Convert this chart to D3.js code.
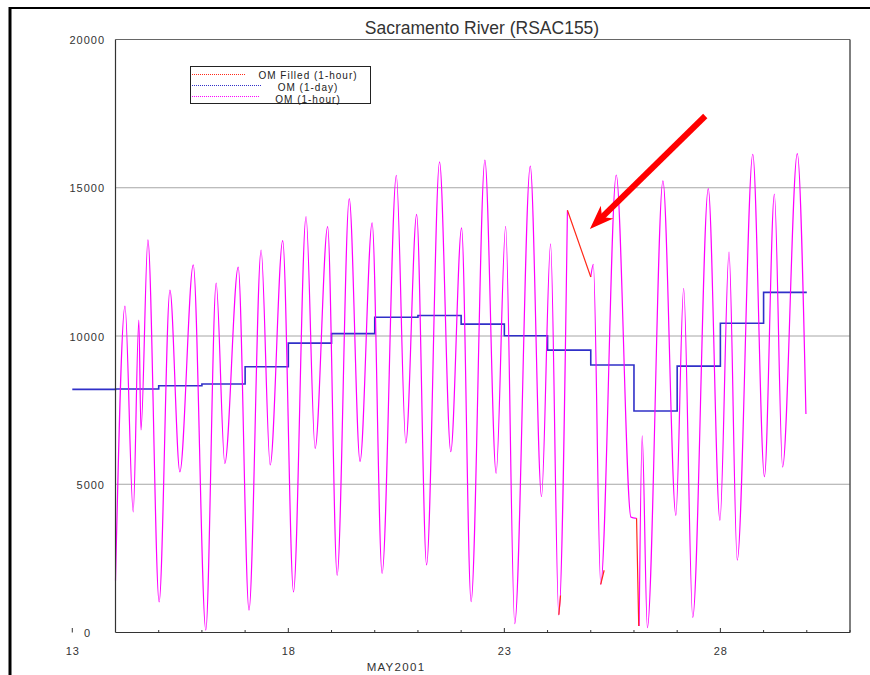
<!DOCTYPE html>
<html>
<head>
<meta charset="utf-8">
<script src="https://cdn.jsdelivr.net/npm/d3@7"></script>
<style>
  html, body { margin: 0; padding: 0; background: #fff; }
  svg { display: block; font-family: "Liberation Sans", Arial, sans-serif; }
</style>
</head>
<body>
<script>
// ---------------- DATA ----------------
const chartTitle = "Sacramento River (RSAC155)";
const xAxisTitle = "MAY2001";
const yTickValues = [0, 5000, 10000, 15000, 20000];
const xMajorTicks = [13, 18, 23, 28];
const xMinorTicks = [15, 16, 17, 19, 20, 21, 22, 24, 25, 26, 27, 29, 30, 31];
const legendLabels = ["OM Filled (1-hour)", "OM (1-day)", "OM (1-hour)"];

// OM (1-hour): day of May (fractional) and value; null = missing (gap)
const hourlyDay = [14.00, 14.22, 14.41, 14.54, 14.59, 14.75, 15.01, 15.26, 15.49, 15.80,
  16.09, 16.33, 16.53, 16.84, 17.09, 17.37, 17.58, 17.87, 18.12, 18.41,
  18.62, 18.91, 19.13, 19.41, 19.66, 19.94, 20.17, 20.50, 20.72, 20.97,
  21.20, 21.50, 21.76, 22.01, 22.23, 22.55, 22.81, 23.03, 23.24, 23.60,
  23.86, 24.07, 24.26, 24.46, 24.70, 25.00, 25.06, 25.23, 25.59, 25.93,
  26.06, 26.09, 26.12, 26.19, 26.31, 26.67, 26.97, 27.15, 27.36, 27.72,
  27.99, 28.20, 28.39, 28.75, 29.02, 29.25, 29.44, 29.78, 29.98];
const hourlyOM = [1750, 11010, 4070, 10540, 6830, 13240, 1030, 11550, 5420, 12400,
  80, 11780, 5700, 12320, 750, 12900, 5650, 13220, 1370, 14030,
  6210, 13690, 1930, 14630, 5770, 13820, 1990, 15420, 6390, 14100,
  2280, 15870, 6100, 13650, 1040, 15930, 5370, 13700, 300, 15730,
  4580, 13110, 590, 14240, null, 11990, 12420, 1620, 15430, 3890,
  3850, null, 220, 6630, 160, 15230, 3950, 11610, 510, 14970,
  3780, 12830, 2440, 16130, 5260, 14790, 5580, 16150, 7370];

// OM Filled (1-hour): only the filled pieces; null separates pieces
const filledDay = [24.26, 24.30, null, 24.46, 25.00, null, 25.23, 25.31, null, 26.06, 26.11];
const filledOM  = [600, 1250, null, 14240, 11990, null, 1620, 2100, null, 3850, 220];

// OM (1-day): daily step values (value holds from that day to the next)
const dailyDay = [13, 14, 15, 16, 17, 18, 19, 20, 21, 22, 23, 24, 25, 26, 27, 28, 29, 30];
const dailyOM  = [8200, 8210, 8320, 8380, 8965, 9760, 10080, 10630, 10690, 10400,
  10010, 9525, 9020, 7470, 8985, 10430, 11470, 11470];

// Annotation arrow (data coordinates): tail and tip
const arrowTail = [27.65, 17420];
const arrowTip  = [24.98, 13610];

// ---------------- DRAWING ----------------
const W = 870, H = 675;
const svg = d3.select("body").append("svg").attr("width", W).attr("height", H);
svg.append("rect").attr("width", W).attr("height", H).attr("fill", "#fff");

const x = d3.scaleLinear().domain([14, 31]).range([115.5, 850]);
const y = d3.scaleLinear().domain([0, 20000]).range([632.5, 39.5]);

// outer frame (left and top black edges)
svg.append("line").attr("x1", 10).attr("x2", 10).attr("y1", 7).attr("y2", H)
  .attr("stroke", "#000").attr("stroke-width", 3);
svg.append("line").attr("x1", 9).attr("x2", W).attr("y1", 8).attr("y2", 8)
  .attr("stroke", "#000").attr("stroke-width", 2);

// title
svg.append("text").attr("x", 482).attr("y", 34).attr("text-anchor", "middle")
  .attr("font-size", 17.5).attr("fill", "#333").text(chartTitle);

// gridlines
svg.append("g").selectAll("line").data(yTickValues.filter(v => v > 0 && v < 20000))
  .join("line")
  .attr("x1", x(14)).attr("x2", x(31))
  .attr("y1", d => y(d)).attr("y2", d => y(d))
  .attr("stroke", "#a6a6a6").attr("stroke-width", 1);

// plot frame
svg.append("line").attr("x1", x(14)).attr("x2", x(31)).attr("y1", y(20000)).attr("y2", y(20000))
  .attr("stroke", "#666").attr("stroke-width", 1.2);
svg.append("line").attr("x1", x(31)).attr("x2", x(31)).attr("y1", y(20000)).attr("y2", y(0))
  .attr("stroke", "#555").attr("stroke-width", 1.5);

// y tick labels
svg.append("g").selectAll("text").data(yTickValues).join("text")
  .attr("x", d => d === 0 ? 91 : 105)
  .attr("y", d => y(d) + 4.5)
  .attr("text-anchor", "end")
  .attr("font-size", 11).attr("letter-spacing", 1).attr("fill", "#333")
  .text(d => d);

// series: daily step (blue)
const dailyPts = dailyDay.map((d, i) => [d, dailyOM[i]]);
svg.append("path").datum(dailyPts)
  .attr("fill", "none").attr("stroke", "#3030c8").attr("stroke-width", 1.6)
  .attr("d", d3.line().x(d => x(d[0])).y(d => y(d[1])).curve(d3.curveStepAfter));

// series: hourly (magenta)
const hourlyPts = hourlyDay.map((d, i) => [d, hourlyOM[i]]);
svg.append("path").datum(hourlyPts)
  .attr("fill", "none").attr("stroke", "#ff00ff").attr("stroke-width", 1.2)
  .attr("d", d3.line().defined(d => d[1] != null)
    .x(d => x(d[0])).y(d => y(d[1])).curve(d3.curveMonotoneX));

// series: filled (red)
const filledPts = filledDay.map((d, i) => [d, filledOM[i]]);
svg.append("path").datum(filledPts)
  .attr("fill", "none").attr("stroke", "#ff2a1a").attr("stroke-width", 1.2)
  .attr("d", d3.line().defined(d => d[0] != null && d[1] != null)
    .x(d => x(d[0])).y(d => y(d[1])));

// axes lines (left and bottom)
svg.append("line").attr("x1", x(14)).attr("x2", x(14)).attr("y1", y(20000)).attr("y2", y(0))
  .attr("stroke", "#333").attr("stroke-width", 1.2);
svg.append("line").attr("x1", x(14)).attr("x2", x(31)).attr("y1", y(0)).attr("y2", y(0))
  .attr("stroke", "#333").attr("stroke-width", 1.2);

// x ticks (inward) and labels
svg.append("g").selectAll("line").data(xMinorTicks).join("line")
  .attr("x1", d => x(d)).attr("x2", d => x(d))
  .attr("y1", y(0)).attr("y2", y(0) - 2.5)
  .attr("stroke", "#333");
svg.append("g").selectAll("line").data(xMajorTicks).join("line")
  .attr("x1", d => x(d)).attr("x2", d => x(d))
  .attr("y1", y(0)).attr("y2", y(0) - 4.5)
  .attr("stroke", "#333");
svg.append("g").selectAll("text").data(xMajorTicks).join("text")
  .attr("x", d => x(d) + 0.5).attr("y", 655)
  .attr("text-anchor", "middle")
  .attr("font-size", 11).attr("letter-spacing", 1).attr("fill", "#333")
  .text(d => d);
svg.append("text").attr("x", 396).attr("y", 671).attr("text-anchor", "middle")
  .attr("font-size", 11.5).attr("letter-spacing", 1.3).attr("fill", "#333")
  .text(xAxisTitle);

// legend
const lg = svg.append("g");
const legendColors = ["#ff2a1a", "#3030c8", "#ff00ff"];
const legendLineEnd = [246, 262, 260];
const legendLineY = [74.5, 85.5, 96.5];
const legendTextY = [79, 90.5, 102.5];
legendLabels.forEach((lab, i) => {
  lg.append("line").attr("x1", 192).attr("x2", legendLineEnd[i])
    .attr("y1", legendLineY[i]).attr("y2", legendLineY[i])
    .attr("stroke", legendColors[i]).attr("stroke-width", 1)
    .attr("stroke-dasharray", "1,1");
  lg.append("text").attr("x", 308).attr("y", legendTextY[i])
    .attr("text-anchor", "middle").attr("font-size", 10).attr("letter-spacing", 1)
    .attr("fill", "#222").text(lab);
});
lg.append("rect").attr("x", 190.5).attr("y", 66.5).attr("width", 180).attr("height", 37)
  .attr("fill", "none").attr("stroke", "#222").attr("stroke-width", 1);

// annotation arrow
const tx = x(arrowTail[0]), ty = y(arrowTail[1]);
const px = x(arrowTip[0]),  py = y(arrowTip[1]);
const len = Math.hypot(tx - px, ty - py);
const ux = (tx - px) / len, uy = (ty - py) / len;   // along, tip -> tail
const nx = -uy, ny = ux;                            // normal
const headLen = 24, headHalf = 9, notch = 17;
const head = [
  [px, py],
  [px + ux * headLen + nx * headHalf, py + uy * headLen + ny * headHalf],
  [px + ux * notch, py + uy * notch],
  [px + ux * headLen - nx * headHalf, py + uy * headLen - ny * headHalf]
];
svg.append("line").attr("x1", tx).attr("y1", ty)
  .attr("x2", px + ux * (notch - 1)).attr("y2", py + uy * (notch - 1))
  .attr("stroke", "#ff0000").attr("stroke-width", 6);
svg.append("polygon").attr("points", head.map(p => p.join(",")).join(" "))
  .attr("fill", "#ff0000");

// stray tick at day 13 (outside plot, as in the reference)
</script>
</body>
</html>
